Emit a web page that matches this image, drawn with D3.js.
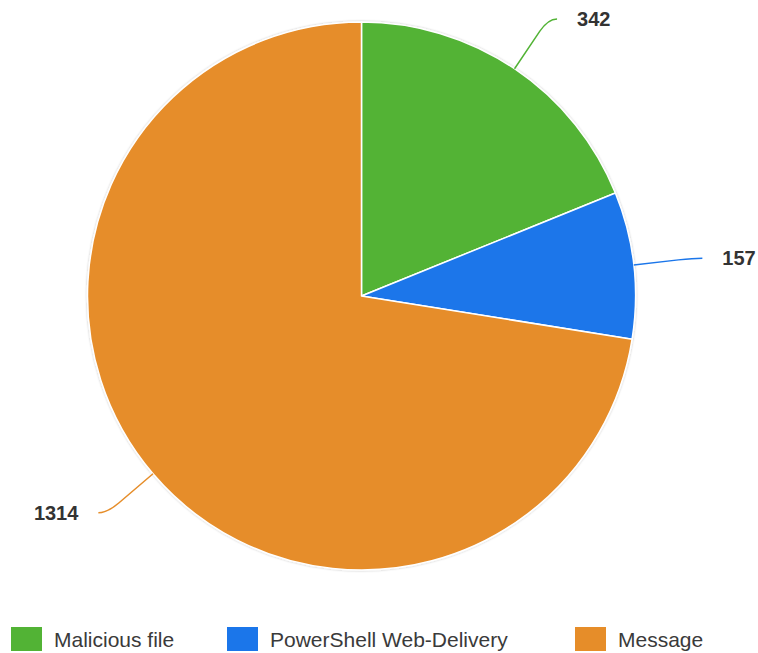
<!DOCTYPE html>
<html>
<head>
<meta charset="utf-8">
<script src="https://cdn.jsdelivr.net/npm/d3@7"></script>
<style>
  html, body { margin: 0; padding: 0; background: #fff; }
  svg { display: block; font-family: "Liberation Sans", Arial, sans-serif; }
</style>
</head>
<body>
<svg id="chart" width="758" height="653"></svg>
<script>
// Attack vectors and counts
const categories = ["Malicious file", "PowerShell Web-Delivery", "Message"];
const values = [342, 157, 1314];
const colors = ["#52b335", "#1b76ea", "#e68d29"];

const width = 758, height = 653;
const cx = 361.5, cy = 296, radius = 274;
const leadLen1 = 60, leadLen2 = 9, labelGap = 20;

const svg = d3.select("#chart");

const defs = svg.append("defs");
const shadow = defs.append("filter").attr("id", "pieShadow")
  .attr("x", "-10%").attr("y", "-10%").attr("width", "120%").attr("height", "120%");
shadow.append("feDropShadow").attr("dx", 0).attr("dy", 0)
  .attr("stdDeviation", 1.2).attr("flood-color", "#000").attr("flood-opacity", 0.25);

const data = categories.map((c, i) => ({ name: c, value: values[i], color: colors[i] }));

const pie = d3.pie().value(d => d.value).sort(null);
const arcs = pie(data);
const arc = d3.arc().innerRadius(0).outerRadius(radius);

const g = svg.append("g").attr("transform", `translate(${cx},${cy})`);

g.append("g").attr("filter", "url(#pieShadow)")
  .selectAll("path").data(arcs).join("path")
  .attr("d", arc)
  .attr("fill", d => d.data.color)
  .attr("stroke", "#fff")
  .attr("stroke-width", 1.5)
  .attr("stroke-linejoin", "round");

// Leader lines and value labels
arcs.forEach(a => {
  const mid = (a.startAngle + a.endAngle) / 2;
  const sx = Math.sin(mid), sy = -Math.cos(mid);
  const p0 = [sx * radius, sy * radius];
  const p1 = [sx * (radius + leadLen1), sy * (radius + leadLen1)];
  const dir = sx >= 0 ? 1 : -1;
  const p2 = [p1[0] + dir * leadLen2, p1[1]];
  const path = d3.path();
  path.moveTo(p0[0], p0[1]);
  // ease into the horizontal tail
  const k = 0.75;
  const c1 = [p0[0] + (p1[0] - p0[0]) * k, p0[1] + (p1[1] - p0[1]) * k];
  path.lineTo(c1[0], c1[1]);
  path.quadraticCurveTo(p1[0], p1[1], p2[0], p2[1]);
  g.append("path")
    .attr("d", path.toString())
    .attr("fill", "none")
    .attr("stroke", a.data.color)
    .attr("stroke-width", 1.5);
  g.append("text")
    .attr("x", p2[0] + dir * labelGap)
    .attr("y", p2[1])
    .attr("dy", "0.35em")
    .attr("text-anchor", dir > 0 ? "start" : "end")
    .attr("font-size", 20)
    .attr("font-weight", "bold")
    .attr("fill", "#333")
    .text(d3.format("d")(a.data.value));
});

// Legend
const legendX = [11, 227, 575];
const legend = svg.append("g");
data.forEach((d, i) => {
  legend.append("rect")
    .attr("x", legendX[i]).attr("y", 627)
    .attr("width", 31).attr("height", 24)
    .attr("fill", d.color);
  legend.append("text")
    .attr("x", legendX[i] + 43).attr("y", 647)
    .attr("font-size", 21)
    .attr("fill", "#3a3a3a")
    .text(d.name);
});
</script>
</body>
</html>
